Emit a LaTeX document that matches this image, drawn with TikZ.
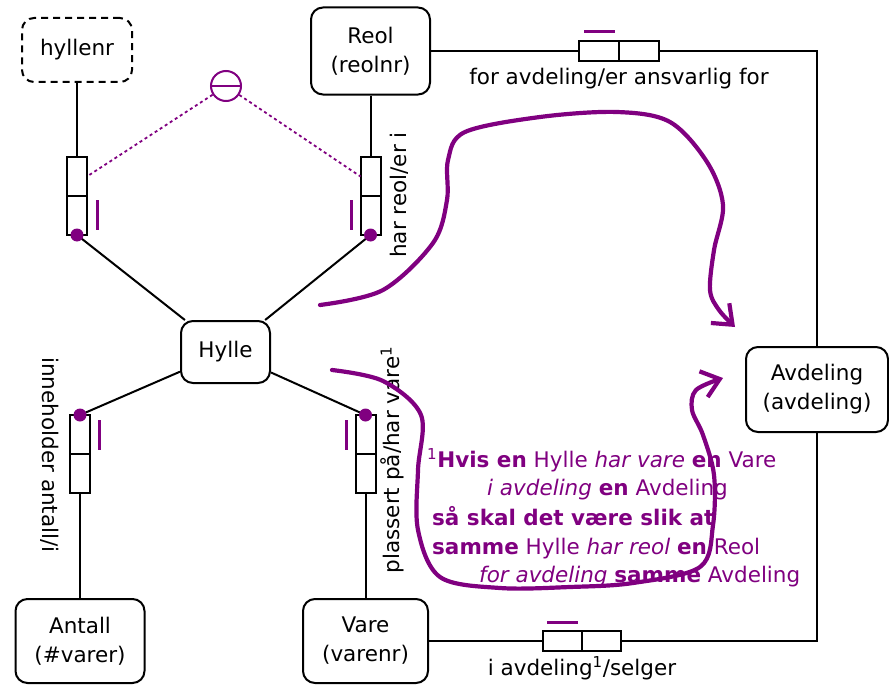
\documentclass[tikz,border=0pt]{standalone}
\usepackage{fontspec}
\setmainfont{DejaVu Sans}
\usetikzlibrary{arrows.meta}
\definecolor{ormpurple}{HTML}{800080}

\begin{document}
\begin{tikzpicture}[x=1pt,y=-1pt,
  font=\fontsize{21.5}{29}\selectfont,
  entity/.style={draw, line width=2pt, rounded corners=12pt, align=center, inner sep=0pt},
  vhalf/.style={draw, line width=2pt, minimum width=20pt, minimum height=39pt, inner sep=0pt, outer sep=0pt},
  hhalf/.style={draw, line width=2pt, minimum width=40pt, minimum height=20pt, inner sep=0pt, outer sep=0pt},
  conn/.style={line width=2pt},
  uniq/.style={ormpurple, line width=3pt},
  mand/.style={ormpurple},
  note/.style={ormpurple, anchor=base west, inner sep=0pt},
  flow/.style={ormpurple, line width=4.2pt, line cap=round, line join=round,
    -{Straight Barb[length=17pt, width=27pt, line width=4.2pt]}},
  rolelbl/.style={inner sep=0pt}]

% canvas
\useasboundingbox[fill=white] (0,0) rectangle (889,685);

% entity types and value types
\node[entity, dashed, dash pattern=on 7pt off 5pt, minimum width=110pt, minimum height=64pt] (hyllenr) at (77,50) {hyllenr};
\node[entity, minimum width=119pt, minimum height=87pt] (Reol) at (370.5,51) {Reol\\(reolnr)};
\node[entity, minimum width=89pt, minimum height=62pt] (Hylle) at (225.5,352) {Hylle};
\node[entity, minimum width=129pt, minimum height=84pt] (Antall) at (80,641) {Antall\\(\#varer)};
\node[entity, minimum width=125pt, minimum height=84pt] (Vare) at (365.5,641) {Vare\\(varenr)};
\node[entity, minimum width=142pt, minimum height=85pt] (Avdeling) at (817,389.5) {Avdeling\\(avdeling)};

% fact type role boxes
\node[vhalf] (r1a) at (77,176.5) {};
\node[vhalf] (r1b) at (77,215.5) {};
\node[vhalf] (r2a) at (370.5,176.5) {};
\node[vhalf] (r2b) at (370.5,215.5) {};
\node[vhalf] (r3a) at (80,434.5) {};
\node[vhalf] (r3b) at (80,473.5) {};
\node[vhalf] (r4a) at (365.5,434.5) {};
\node[vhalf] (r4b) at (365.5,473.5) {};
\node[hhalf] (t1a) at (599,51) {};
\node[hhalf] (t1b) at (639,51) {};
\node[hhalf, minimum width=39pt] (b1a) at (562.5,641) {};
\node[hhalf, minimum width=39pt] (b1b) at (601.5,641) {};

% role connectors
\draw[conn] (hyllenr) -- (r1a);
\draw[conn] (Reol) -- (r2a);
\draw[conn] (r1b.south) -- (Hylle);
\draw[conn] (r2b.south) -- (Hylle);
\draw[conn] (r3a.north) -- (Hylle);
\draw[conn] (r4a.north) -- (Hylle);
\draw[conn] (r3b) -- (Antall);
\draw[conn] (r4b) -- (Vare);
\draw[conn] (Reol.east) -- (t1a.west);
\draw[conn] (t1b.east) -| (Avdeling.north);
\draw[conn] (Vare.east) -- (b1a.west);
\draw[conn] (b1b.east) -| (Avdeling.south);

% mandatory role dots
\fill[mand] (r1b.south) circle[radius=6.5pt];
\fill[mand] (r2b.south) circle[radius=6.5pt];
\fill[mand] (r3a.north) circle[radius=6.5pt];
\fill[mand] (r4a.north) circle[radius=6.5pt];

% uniqueness bars
\draw[uniq] (97,200) -- (97,230);
\draw[uniq] (351,200) -- (351,230);
\draw[uniq] (99,420) -- (99,450);
\draw[uniq] (346,420) -- (346,450);
\draw[uniq] (584,32) -- (615,32);
\draw[uniq] (547,622) -- (578,622);

% exclusion constraint
\node[circle, draw=ormpurple, line width=2pt, minimum size=30pt, inner sep=0pt] (excl) at (226,86) {};
\draw[ormpurple, line width=2pt] (excl.west) -- (excl.east);
\draw[ormpurple, line width=1.8pt, dash pattern=on 3pt off 3pt] (excl) -- (r1a.east);
\draw[ormpurple, line width=1.8pt, dash pattern=on 3pt off 3pt] (excl) -- (r2a.west);

% fact type readings
\node[rolelbl] (lblTop) at (619,79) {for avdeling/er ansvarlig for};
\node[rolelbl] (lblBot) at (582,668) {i avdeling\textsuperscript{1}/selger};
\node[rolelbl, rotate=90] (lblReol) at (399,195) {har reol/er i};
\node[rolelbl, rotate=-90] (lblAnt) at (50,455) {inneholder antall/i};
\node[rolelbl, rotate=90] (lblVare) at (392,460) {plassert på/har vare\textsuperscript{1}};

% subset rule note
\node[note] (n1) at (427,467) {\textsuperscript{1}\textbf{Hvis en} Hylle \textit{har vare} \textbf{en} Vare};
\node[note] (n2) at (487,495) {\textit{i avdeling} \textbf{en} Avdeling};
\node[note] (n3) at (432,525) {\textbf{så skal det være slik at}};
\node[note] (n4) at (432,554) {\textbf{samme} Hylle \textit{har reol} \textbf{en} Reol};
\node[note] (n5) at (479,582) {\textit{for avdeling} \textbf{samme} Avdeling};

% navigation arrows
\draw[flow] plot[smooth, tension=0.55] coordinates {(320,305) (383,290) (433,243) (447,200) (448,160) (465,132) (540,117) (617,112) (670,122) (707,162) (723,205) (714,250) (710,290) (719,310) (735,327)};
\draw[flow] plot[smooth, tension=0.55] coordinates {(332,370) (383,381) (421,415) (418,470) (418,530) (440,577) (500,588) (570,587) (633,583) (700,567) (713,525) (714,475) (703,435) (692,410) (696,390) (723,378)};
\end{tikzpicture}
\end{document}
